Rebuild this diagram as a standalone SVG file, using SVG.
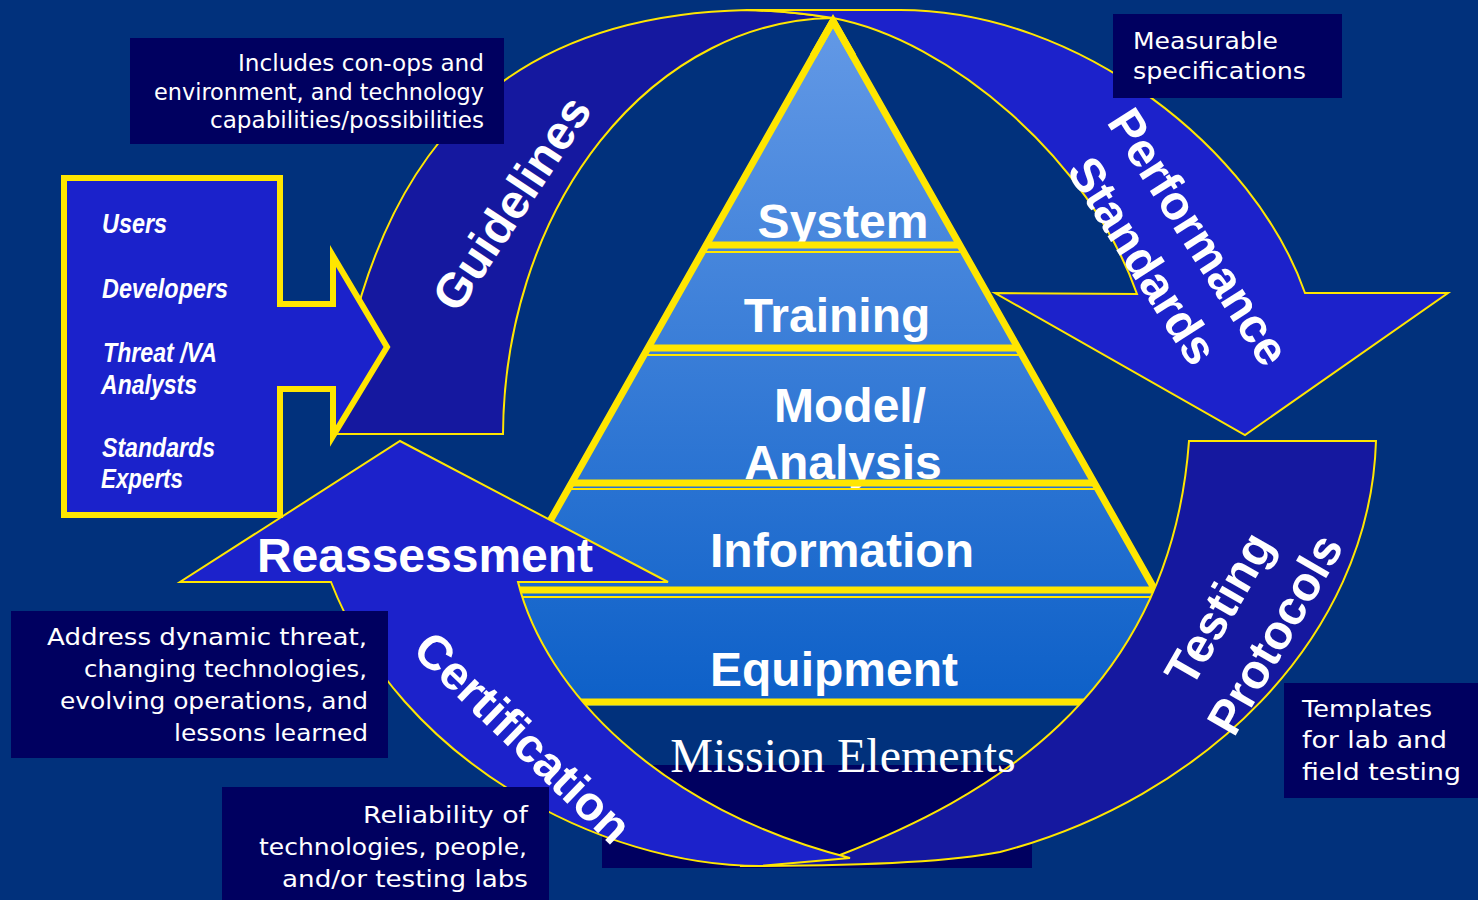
<svg xmlns="http://www.w3.org/2000/svg" width="1478" height="900" viewBox="0 0 1478 900">
<defs>
<linearGradient id="pyrGrad" gradientUnits="userSpaceOnUse" x1="0" y1="21" x2="0" y2="706">
<stop offset="0" stop-color="#6399E6"/>
<stop offset="1" stop-color="#0D60C8"/>
</linearGradient>
<style>
.arc-dark{fill:#15189F;stroke:#FFE600;stroke-width:2;stroke-linejoin:miter}
.arc-bright{fill:#1C22CB;stroke:#FFE600;stroke-width:2;stroke-linejoin:miter}
.note{fill:#000060}
.nt{font-family:"DejaVu Sans",sans-serif;font-size:23px;fill:#fff}
.lbl{font-family:"Liberation Sans",Arial,sans-serif;font-weight:bold;font-size:48px;fill:#fff}
.usr{font-family:"Liberation Sans",Arial,sans-serif;font-weight:bold;font-style:italic;font-size:28px;fill:#fff}
.thick{stroke:#FFE600;stroke-width:7}
.thin{stroke:#FFE600;stroke-width:2}
</style>
</defs>
<rect id="background" x="0" y="0" width="1478" height="900" fill="#01317C"/>

<g id="pyramid">
<path d="M833,21 L511,590 L490,590 L490,706 L1200,706 L1200,590 L1155,590 Z" fill="url(#pyrGrad)"/>
<text class="lbl" x="843" y="238" text-anchor="middle" font-size="47.5">System</text>
<text class="lbl" x="837" y="332" text-anchor="middle" font-size="47.5">Training</text>
<text class="lbl" x="850" y="422" text-anchor="middle" font-size="47.5">Model/</text>
<text class="lbl" x="843" y="479" text-anchor="middle" font-size="47.5">Analysis</text>
<text class="lbl" x="842" y="567" text-anchor="middle" font-size="47.5">Information</text>
<text class="lbl" x="834" y="686" text-anchor="middle" font-size="47.5">Equipment</text>
<line class="thick" x1="708" y1="245" x2="958" y2="245"/>
<line class="thin" x1="704" y1="252" x2="962" y2="252"/>
<line class="thick" x1="650" y1="348" x2="1016" y2="348"/>
<line class="thin" x1="646" y1="355" x2="1020" y2="355"/>
<line class="thick" x1="573" y1="483" x2="1093" y2="483"/>
<line class="thin" x1="570" y1="489" x2="1096" y2="489"/>
<line class="thin" x1="490" y1="597" x2="1200" y2="597"/>
<line class="thick" x1="490" y1="702" x2="1200" y2="702"/>
<path d="M833,21 L1155,590 L511,590 Z" fill="none" stroke="#FFE600" stroke-width="7" stroke-linejoin="miter"/>
</g>

<g id="mission-elements">
<rect x="602" y="765" width="430" height="103" fill="#000060"/>
</g>

<g id="connectors">
<g id="arrow-guidelines">
<path class="arc-dark" d="M333,434 L503,434 A333,419 0 0 1 833,18 Q790,11 747,10 C520,15 370,130 333,434 Z"/>
<text class="lbl" transform="translate(513,204) rotate(-56.5)" x="0" y="15" text-anchor="middle" font-size="47">Guidelines</text>
</g>
<g id="arrow-performance">
<path class="arc-bright" d="M747,10 L900,10 C1080,10 1255,150 1305,293 L1448,293 L1245,435 L995,293 L1137,294 C1090,160 950,40 833,18 Q790,11 747,10 Z"/>
<g transform="translate(1197,238) rotate(57.5)">
<text class="lbl" x="0" y="14.5" text-anchor="middle">Performance</text>
<text class="lbl" x="-10" y="74.5" text-anchor="middle">Standards</text>
</g>
</g>
<g id="arrow-testing">
<path class="arc-dark" d="M1189,441 L1376,441 C1370,640 1200,800 1000,852 Q930,866 740,866 L840,855 C980,800 1170,700 1189,441 Z"/>
<g transform="translate(1223,611) rotate(-60)">
<text class="lbl" x="0" y="12" text-anchor="middle">Testing</text>
<text class="lbl" x="6" y="73" text-anchor="middle">Protocols</text>
</g>
</g>
<g id="arrow-certification">
<path class="arc-bright" d="M518,582 C545,690 660,810 850,858 L760,866 C600,866 400,760 331,582 L180,582 L400,441 L668,582 Z"/>
<text class="lbl" x="425" y="572" text-anchor="middle">Reassessment</text>
<text class="lbl" transform="translate(521.5,739) rotate(44)" x="0" y="14.5" text-anchor="middle">Certification</text>
</g>
</g>

<g id="pyramid-apex">
<path d="M813,56 L833,21 L853,56" fill="none" stroke="#FFE600" stroke-width="7" stroke-linejoin="miter"/>
</g>

<g id="mission-label">
<text x="843" y="772" text-anchor="middle" font-family="'Liberation Serif','Times New Roman',serif" font-size="48" fill="#fff">Mission Elements</text>
</g>

<g id="stakeholders">
<path d="M64,178 L280,178 L280,304 L333,304 L333,256 L387,347 L333,436 L333,389 L280,389 L280,515 L64,515 Z" fill="#1B22CB" stroke="#FFE600" stroke-width="6" stroke-linejoin="miter"/>
<text class="usr" x="102" y="233" textLength="65" lengthAdjust="spacingAndGlyphs">Users</text>
<text class="usr" x="102" y="298" textLength="126" lengthAdjust="spacingAndGlyphs">Developers</text>
<text class="usr" x="103" y="362" textLength="114" lengthAdjust="spacingAndGlyphs">Threat /VA</text>
<text class="usr" x="101" y="394" textLength="96" lengthAdjust="spacingAndGlyphs">Analysts</text>
<text class="usr" x="102" y="457" textLength="113" lengthAdjust="spacingAndGlyphs">Standards</text>
<text class="usr" x="101" y="488" textLength="82" lengthAdjust="spacingAndGlyphs">Experts</text>
</g>

<g id="note-guidelines">
<rect class="note" x="130" y="38" width="374" height="106"/>
<text class="nt" x="484" y="71" text-anchor="end" textLength="246" lengthAdjust="spacingAndGlyphs">Includes con-ops and</text>
<text class="nt" x="484" y="100" text-anchor="end" textLength="330" lengthAdjust="spacingAndGlyphs">environment, and technology</text>
<text class="nt" x="484" y="128" text-anchor="end" textLength="274" lengthAdjust="spacingAndGlyphs">capabilities/possibilities</text>
</g>

<g id="note-performance">
<rect class="note" x="1113" y="14" width="229" height="84"/>
<text class="nt" x="1133" y="49" font-size="25" textLength="145" lengthAdjust="spacingAndGlyphs">Measurable</text>
<text class="nt" x="1133" y="79" font-size="25" textLength="173" lengthAdjust="spacingAndGlyphs">specifications</text>
</g>

<g id="note-reassessment">
<rect class="note" x="11" y="611" width="377" height="147"/>
<text class="nt" x="367" y="645" text-anchor="end" textLength="320" lengthAdjust="spacingAndGlyphs">Address dynamic threat,</text>
<text class="nt" x="367" y="677" text-anchor="end" textLength="283" lengthAdjust="spacingAndGlyphs">changing technologies,</text>
<text class="nt" x="368" y="709" text-anchor="end" textLength="308" lengthAdjust="spacingAndGlyphs">evolving operations, and</text>
<text class="nt" x="368" y="741" text-anchor="end" textLength="194" lengthAdjust="spacingAndGlyphs">lessons learned</text>
</g>

<g id="note-certification">
<rect class="note" x="222" y="787" width="327" height="113"/>
<text class="nt" x="528" y="823" text-anchor="end" font-size="25" textLength="165" lengthAdjust="spacingAndGlyphs">Reliability of</text>
<text class="nt" x="527" y="855" text-anchor="end" font-size="25" textLength="268" lengthAdjust="spacingAndGlyphs">technologies, people,</text>
<text class="nt" x="528" y="887" text-anchor="end" font-size="25" textLength="246" lengthAdjust="spacingAndGlyphs">and/or testing labs</text>
</g>

<g id="note-testing">
<rect class="note" x="1284" y="683" width="194" height="115"/>
<text class="nt" x="1302" y="717" font-size="25" textLength="130" lengthAdjust="spacingAndGlyphs">Templates</text>
<text class="nt" x="1302" y="748" font-size="25" textLength="145" lengthAdjust="spacingAndGlyphs">for lab and</text>
<text class="nt" x="1302" y="780" font-size="25" textLength="159" lengthAdjust="spacingAndGlyphs">field testing</text>
</g>
</svg>
